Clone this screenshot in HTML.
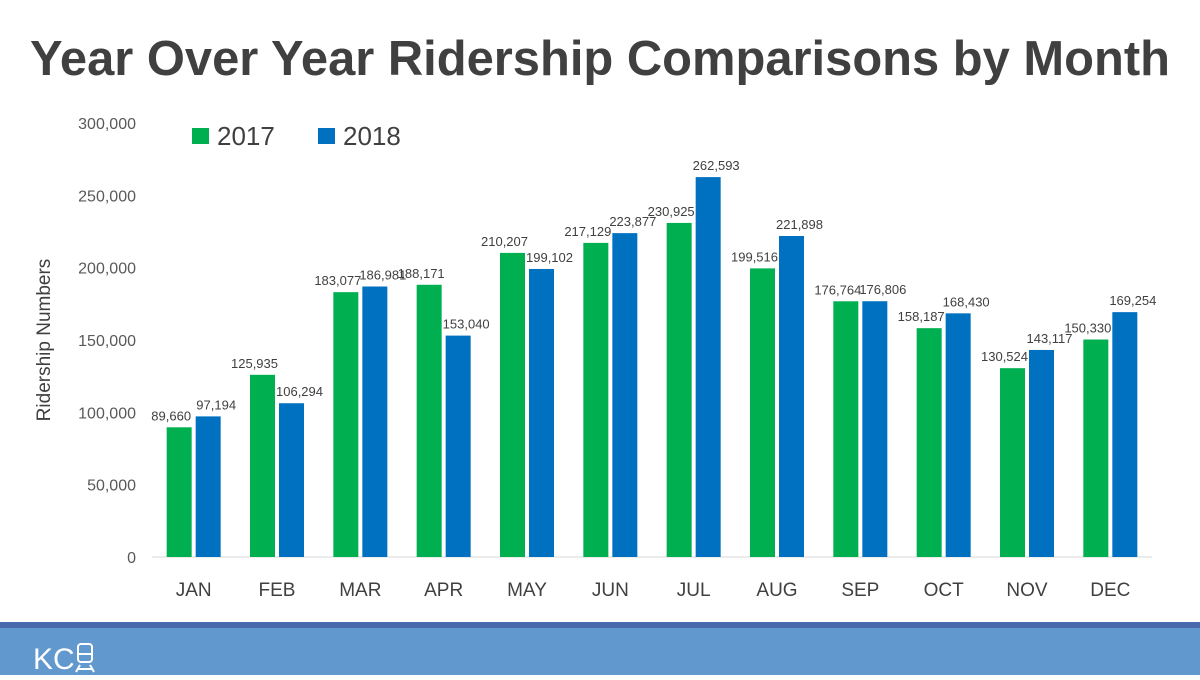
<!DOCTYPE html>
<html><head><meta charset="utf-8"><style>
body{margin:0;width:1200px;height:675px;overflow:hidden;background:#fff;font-family:"Liberation Sans",sans-serif}
</style></head><body>
<svg width="1200" height="675">
<text x="600" y="75" text-anchor="middle" font-size="49" font-weight="bold" fill="#404040" textLength="1140" lengthAdjust="spacingAndGlyphs">Year Over Year Ridership Comparisons by Month</text>
<text transform="translate(50,340) rotate(-90)" text-anchor="middle" font-size="19" fill="#404040">Ridership Numbers</text>
<g>
<rect x="192" y="128" width="17" height="16" fill="#00b050"/>
<text x="217" y="145" font-size="26" fill="#404040">2017</text>
<rect x="318" y="128" width="17" height="16" fill="#0070c0"/>
<text x="343" y="145" font-size="26" fill="#404040">2018</text>
</g>
<g id="plot"></g>
<rect x="0" y="622" width="1200" height="6" fill="#4a6aad"/>
<rect x="0" y="628" width="1200" height="47" fill="#6199cf"/>
<text x="33" y="669" font-size="30" fill="#fff">KC</text>
<g fill="none" stroke="#fff" stroke-width="2">
<rect x="78" y="644" width="14" height="18" rx="3"/><line x1="78" y1="654" x2="92" y2="654"/><line x1="80" y1="665" x2="76" y2="672"/><line x1="90" y1="665" x2="94" y2="672"/><line x1="77" y1="669" x2="93" y2="669"/>
</g>
</svg>
<script>
const months=["JAN","FEB","MAR","APR","MAY","JUN","JUL","AUG","SEP","OCT","NOV","DEC"];
const v2017=[89660,125935,183077,188171,210207,217129,230925,199516,176764,158187,130524,150330];
const v2018=[97194,106294,186981,153040,199102,223877,262593,221898,176806,168430,143117,169254];
const yTicks=[0,50000,100000,150000,200000,250000,300000];
const X0=152,X1=1152,Y0=557,Y1=123,MAX=300000;
const ns="http://www.w3.org/2000/svg";
const g=document.getElementById('plot');
const y=v=>Y0-(v/MAX)*(Y0-Y1);
const cw=(X1-X0)/months.length;
const cx=i=>X0+cw*(i+0.5);
const fmt=v=>v.toLocaleString('en-US');
function mk(t,a,txt){const e=document.createElementNS(ns,t);for(const k in a)e.setAttribute(k,a[k]);if(txt!==undefined)e.textContent=txt;g.appendChild(e);return e;}
yTicks.forEach(t=>{
const e=mk('text',{x:136,y:y(t)+6,'text-anchor':'end','font-size':16,fill:'#595959'},fmt(t));


});
const ax=mk('line',{x1:X0,y1:Y0,x2:X1,y2:Y0,stroke:'#d9d9d9','stroke-width':1});


months.forEach((m,i)=>{
const t=mk('text',{x:cx(i),y:596,'text-anchor':'middle','font-size':19,fill:'#404040'},m);


[[v2017[i],'#00b050',-14.5,'2017',-8],[v2018[i],'#0070c0',14.5,'2018',8]].forEach(([v,c,off,s,lo])=>{
const bx=cx(i)+off-12.5;
const r=mk('rect',{x:bx,y:y(v),width:25,height:Y0-y(v),fill:c});


const l=mk('text',{x:bx+12.5+lo,y:y(v)-7,'text-anchor':'middle','font-size':13,fill:'#404040'},fmt(v));


});
});
</script>
</body></html>
